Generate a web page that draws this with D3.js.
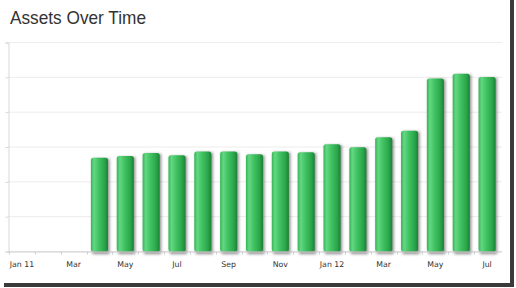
<html>
<head>
<style>
body{
    margin: 0;
    background: #fff;
}
#target svg{
    display: block;
}
</style>
</head>
<body>
    <div id="target"></div>

<script src="https://cdn.jsdelivr.net/npm/d3@7.8.3/dist/d3.min.js"></script>
<script>
    // Monthly assets, Jan 2011 to Jul 2012 (no data for the first three months)
    const months = ["2011-01","2011-02","2011-03","2011-04","2011-05","2011-06","2011-07",
        "2011-08","2011-09","2011-10","2011-11","2011-12","2012-01","2012-02","2012-03",
        "2012-04","2012-05","2012-06","2012-07"];
    const assets = [null, null, null, 26900, 27400, 28300, 27600, 28700, 28700, 27900,
        28700, 28500, 30800, 29900, 32800, 34700, 49700, 51000, 50100];
    const tickLabels = ["Jan 11","","Mar","","May","","Jul","","Sep","","Nov","",
        "Jan 12","","Mar","","May","","Jul"];
    const yTicks = [0, 10000, 20000, 30000, 40000, 50000, 60000];

    const width = 516;
    const height = 288;

(function main(){
    const svg = d3.select("#target")
        .append("svg")
        .attr("width", width)
        .attr("height", height);

    const defs = svg.append("defs");

    // cylinder look for the bars
    const grad = defs.append("linearGradient")
        .attr("id", "barGrad")
        .attr("x1", "0%").attr("x2", "100%")
        .attr("y1", "0%").attr("y2", "0%");
    [[0, "#35b554"], [0.18, "#62d882"], [0.45, "#42c263"], [0.8, "#2aa64a"], [1, "#1c8037"]]
        .forEach(s => grad.append("stop").attr("offset", s[0]).attr("stop-color", s[1]));

    const blur = defs.append("filter")
        .attr("id", "shadow")
        .attr("x", "-50%").attr("y", "-10%")
        .attr("width", "200%").attr("height", "130%");
    blur.append("feGaussianBlur").attr("stdDeviation", 1.6);

    // frame shadow on right and bottom
    svg.append("rect")
        .attr("x", 510).attr("y", 0)
        .attr("width", 4).attr("height", 287)
        .attr("fill", "#3a3a3a");
    svg.append("rect")
        .attr("x", 4).attr("y", 283)
        .attr("width", 510).attr("height", 4)
        .attr("fill", "#3a3a3a");

    svg.append("text")
        .attr("x", 10)
        .attr("y", 24)
        .attr("font-family", "Liberation Sans, Arial, sans-serif")
        .attr("font-size", 18.5)
        .attr("textLength", 136)
        .attr("lengthAdjust", "spacingAndGlyphs")
        .attr("fill", "#333")
        .text("Assets Over Time");

    const x = d3.scaleBand()
        .domain(months)
        .range([9, 500])
        .padding(0);

    const y = d3.scaleLinear()
        .domain([0, 60000])
        .range([251.5, 42.5]);

    // grid
    svg.append("g")
        .selectAll("line")
        .data(yTicks)
        .join("line")
        .attr("x1", 8)
        .attr("x2", 502)
        .attr("y1", d => y(d))
        .attr("y2", d => y(d))
        .attr("stroke", "#ececec");

    const yAxis = svg.append("g")
        .attr("transform", "translate(8.5,0)")
        .call(d3.axisLeft(y).tickValues(yTicks).tickSize(3).tickFormat(""));
    yAxis.selectAll("line, path").attr("stroke", "#d8d8d8");

    const bw = x.bandwidth() * 0.66;
    const data = months.map((m, i) => ({m: m, v: assets[i]})).filter(d => d.v != null);

    // soft shadows first
    svg.append("g")
        .selectAll("rect")
        .data(data)
        .join("rect")
        .attr("x", d => x(d.m) + (x.bandwidth() - bw) / 2 + 1.5)
        .attr("y", d => y(d.v) + 1)
        .attr("width", bw)
        .attr("height", d => y(0) - y(d.v) + 1.5)
        .attr("fill", "#000")
        .attr("opacity", 0.45)
        .attr("filter", "url(#shadow)");

    svg.append("g")
        .selectAll("rect")
        .data(data)
        .join("rect")
        .attr("x", d => x(d.m) + (x.bandwidth() - bw) / 2)
        .attr("y", d => y(d.v))
        .attr("width", bw)
        .attr("height", d => y(0) - y(d.v))
        .attr("rx", 2.5)
        .attr("fill", "url(#barGrad)");

    // x axis: labels at band centres, ticks at band edges
    const xAxis = svg.append("g")
        .attr("transform", `translate(0,${y(0)})`)
        .call(d3.axisBottom(x).tickSize(0).tickPadding(10).tickFormat((d, i) => tickLabels[i]));
    xAxis.select(".domain").attr("stroke", "#cfcfcf").attr("d", "M8,0.5H502");
    xAxis.selectAll("text")
        .attr("font-family", "DejaVu Sans, Verdana, sans-serif")
        .attr("font-size", 7.8)
        .attr("fill", "#333");

    svg.append("g")
        .selectAll("line")
        .data(months)
        .join("line")
        .attr("x1", d => Math.round(x(d)) + 0.5)
        .attr("x2", d => Math.round(x(d)) + 0.5)
        .attr("y1", y(0))
        .attr("y2", y(0) + 3)
        .attr("stroke", "#cfcfcf");
})();
</script>
</body>
</html>
